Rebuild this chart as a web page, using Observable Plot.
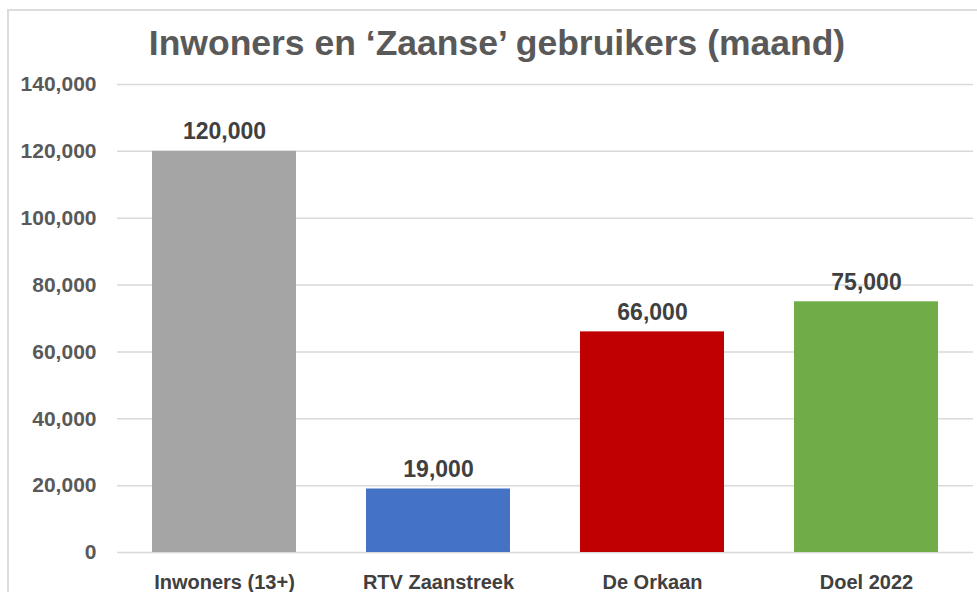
<!DOCTYPE html>
<html>
<head>
<meta charset="utf-8">
<script src="https://cdn.jsdelivr.net/npm/d3@7"></script>
<script src="https://cdn.jsdelivr.net/npm/@observablehq/plot@0.6"></script>
<style>
  html, body { margin: 0; padding: 0; background: #fff; }
  #wrap { position: relative; width: 977px; height: 592px; overflow: hidden; font-family: "Liberation Sans", Arial, sans-serif; }
  #border { position: absolute; left: 7px; top: 9px; right: -5px; bottom: -5px; border-left: 2px solid #dcdcdc; border-top: 2px solid #dcdcdc; }
  #title { position: absolute; left: 0; width: 994px; top: 26px; text-align: center; font-size: 35.5px; font-weight: bold; color: #595959; line-height: 1; }
  #chart { position: absolute; left: 0; top: 0; }
</style>
</head>
<body>
<div id="wrap">
  <div id="border"></div>
  <div id="title">Inwoners en ‘Zaanse’ gebruikers (maand)</div>
  <div id="chart"></div>
</div>
<script>
const categories = ["Inwoners (13+)", "RTV Zaanstreek", "De Orkaan", "Doel 2022"];
const values = [120000, 19000, 66000, 75000];
const colors = ["#a5a5a5", "#4472c4", "#c00000", "#70ad47"];
const yTicks = [0, 20000, 40000, 60000, 80000, 100000, 120000, 140000];

const data = categories.map((c, i) => ({category: c, value: values[i], color: colors[i]}));
const fmt = d3.format(",");

const chart = Plot.plot({
  width: 977,
  height: 592,
  marginLeft: 117,
  marginRight: 4,
  marginTop: 84,
  marginBottom: 40,
  style: {fontFamily: "'Liberation Sans', Arial, sans-serif", background: "transparent", overflow: "visible"},
  x: {domain: categories, paddingInner: 0.327, paddingOuter: 0.1635, label: null, tickSize: 0, tickPadding: 22},
  y: {domain: [0, 140000], ticks: yTicks, tickFormat: fmt, label: null, tickSize: 0, tickPadding: 21},
  marks: [
    Plot.ruleY(yTicks, {stroke: "#d9d9d9", strokeWidth: 1.5}),
    Plot.barY(data, {x: "category", y: "value", fill: "color"}),
    Plot.text(data, {x: "category", y: "value", text: d => fmt(d.value), lineAnchor: "bottom", dy: -12, fill: "#404040", fontSize: 23, fontWeight: "bold"}),
    Plot.axisY({ticks: yTicks, tickFormat: fmt, tickSize: 0, tickPadding: 21, fontSize: 21, fontWeight: "bold", fill: "#595959", label: null}),
    Plot.axisX({tickSize: 0, tickPadding: 22, fontSize: 20, fontWeight: "bold", fill: "#404040", label: null})
  ]
});
document.getElementById("chart").appendChild(chart);
</script>
</body>
</html>
